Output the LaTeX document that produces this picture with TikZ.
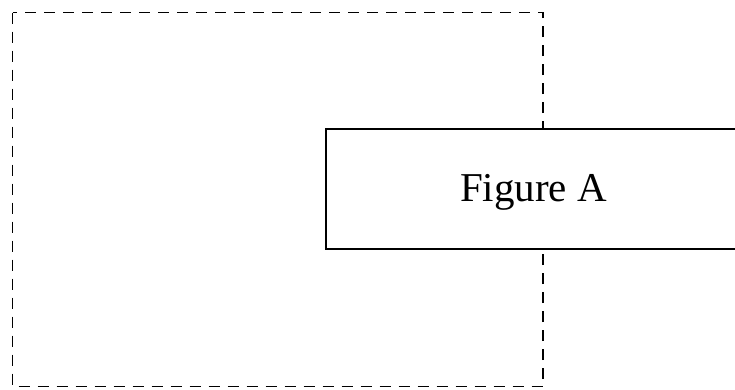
\documentclass[tikz,border=0pt]{standalone}
\usepackage{fontspec}
\setmainfont{Liberation Serif}
\tikzset{
  dashbox/.style={draw=black, line width=1.7pt, dash pattern=on 11pt off 8pt},
  figbox/.style={draw=black, fill=white, line width=1.6pt, rectangle,
    minimum width=415pt, minimum height=120pt, inner sep=0pt, outer sep=0pt},
  figlabel/.style={font=\fontsize{41pt}{48pt}\selectfont, text=black, inner sep=0pt}
}
\begin{document}
\begin{tikzpicture}[x=1pt,y=-1pt]
  \useasboundingbox (0,0) rectangle (735,389);
  \clip (0,0) rectangle (735,389);
  \coordinate (dtl) at (12.5,12.5);
  \coordinate (dbr) at (543,386.5);
  \draw[dashbox] (dtl) rectangle (dbr);
  \node[figbox] (box) at (533.5,189) {};
  \node[figlabel, anchor=base] (lab) at (533.5,201.5) {Figure A};
\end{tikzpicture}
\end{document}
